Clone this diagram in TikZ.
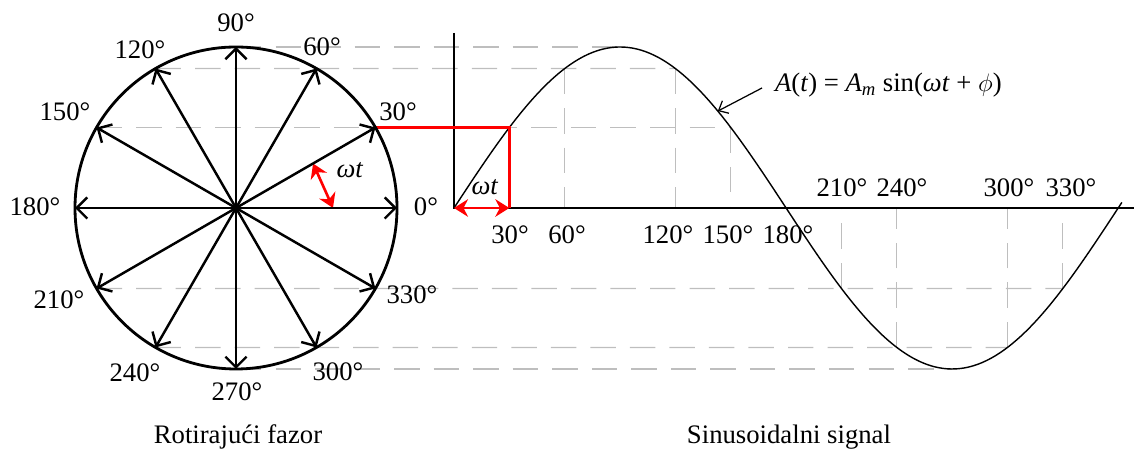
\documentclass[tikz,border=0pt]{standalone}
\usepackage{amsmath}
\usepackage{fontspec}
\setmainfont{Liberation Serif}
\usetikzlibrary{arrows.meta}
\definecolor{guidegray}{RGB}{190,190,190}

\begin{document}
\begin{tikzpicture}[x=0.02cm,y=0.02cm,
  every node/.style={inner sep=0pt, outer sep=0pt, font=\fontsize{15.2}{18}\selectfont},
  rim/.style={line width=1.6pt},
  phasor/.style={line width=1.4pt, -{Straight Barb[length=6pt,width=12pt]}},
  guide/.style={guidegray, line width=0.7pt, dash pattern=on 14.5pt off 8pt},
  wave/.style={line width=0.8pt},
  axisline/.style={line width=1.3pt},
  marker/.style={red, line width=1.5pt},
  markerarr/.style={red, line width=1.5pt, {Stealth[length=8pt,width=10pt]}-{Stealth[length=8pt,width=10pt]}},
  pointer/.style={line width=0.7pt, -{Straight Barb[length=4.5pt,width=8pt]}}]

\useasboundingbox (0,0) rectangle (1134,449);

\coordinate (C) at (236,241);
\coordinate (O) at (454,241);
\coordinate (ytop) at (454,416);
\coordinate (xend) at (1134,241);

\begin{scope}[shift={(C)}]
\coordinate (p0) at (0:161);
\coordinate (p30) at (30:161);
\coordinate (p60) at (60:161);
\coordinate (p90) at (90:161);
\coordinate (p120) at (120:161);
\coordinate (p150) at (150:161);
\coordinate (p180) at (180:161);
\coordinate (p210) at (210:161);
\coordinate (p240) at (240:161);
\coordinate (p270) at (270:161);
\coordinate (p300) at (300:161);
\coordinate (p330) at (330:161);
\coordinate (w30) at (30:89);
\coordinate (w0) at (0:97);
\end{scope}

\coordinate (s30) at (509.35,321.5);
\coordinate (s60) at (564.7,380.43);
\coordinate (s90) at (620.05,402);
\coordinate (s120) at (675.4,380.43);
\coordinate (ptr) at (717.8,337.9);
\coordinate (s150) at (730.75,321.5);
\coordinate (s210) at (841.45,160.5);
\coordinate (s240) at (896.8,101.57);
\coordinate (s270) at (952.15,80);
\coordinate (s300) at (1007.5,101.57);
\coordinate (s330) at (1062.85,160.5);

\draw[guide] (p90) -- (s90);
\draw[guide] (p120) -- (s120);
\draw[guide] (p150) -- (s150);
\draw[guide] (p210) -- (s330);
\draw[guide] (p240) -- (s300);
\draw[guide] (p270) -- (s270);
\draw[guide] (s60) -- (s60 |- O);
\draw[guide] (s120) -- (s120 |- O);
\draw[guide] (s150) -- (s150 |- O);
\draw[guide] (s210) -- (s210 |- O);
\draw[guide] (s240) -- (s240 |- O);
\draw[guide] (s300) -- (s300 |- O);
\draw[guide] (s330) -- (s330 |- O);

\draw[axisline] (ytop) -- (O) -- (xend);
\draw[wave] plot[domain=0:362, samples=150, smooth] ({454+1.845*\x},{241+161*sin(\x)});

\draw[marker] (p30) -- (s30) -- (s30 |- O);
\draw[markerarr] (O) -- (s30 |- O);
\draw[markerarr] (w30) -- (w0);

\draw[rim] (C) circle (161);
\draw[phasor] (C) -- (p0);
\draw[phasor] (C) -- (p30);
\draw[phasor] (C) -- (p60);
\draw[phasor] (C) -- (p90);
\draw[phasor] (C) -- (p120);
\draw[phasor] (C) -- (p150);
\draw[phasor] (C) -- (p180);
\draw[phasor] (C) -- (p210);
\draw[phasor] (C) -- (p240);
\draw[phasor] (C) -- (p270);
\draw[phasor] (C) -- (p300);
\draw[phasor] (C) -- (p330);

\node (c90) at (236,426) {90°};
\node (c60) at (322,402) {60°};
\node (c120) at (140,399) {120°};
\node (c30) at (398,337) {30°};
\node (c150) at (65,337) {150°};
\node (c0) at (426,242) {0°};
\node (c180) at (35,242) {180°};
\node (c330) at (412,154) {330°};
\node (c210) at (59,149) {210°};
\node (c300) at (338,77) {300°};
\node (c270) at (237,57) {270°};
\node (c240) at (135,76) {240°};
\node (wc) at (350,279) {\textit{ωt}};

\node (t30) at (510,214) {30°};
\node (t60) at (567,214) {60°};
\node (t120) at (668,214) {120°};
\node (t150) at (728,214) {150°};
\node (t180) at (788,214) {180°};
\node (t210) at (842,261) {210°};
\node (t240) at (902,261) {240°};
\node (t300) at (1009,261) {300°};
\node (t330) at (1071,261) {330°};
\node (ws) at (485,262) {\textit{ωt}};

\node[anchor=west] (fml) at (775,364) {\textit{A}(\textit{t}) = $\textit{A}_{\textit{m}}$ sin(\textit{ωt} + $\phi$)};
\draw[pointer] ([xshift=-0.26cm,yshift=-0.06cm]fml.west) -- (ptr);

\node (cap1) at (238,12) {Rotirajući fazor};
\node (cap2) at (789,12) {Sinusoidalni signal};
\end{tikzpicture}
\end{document}
